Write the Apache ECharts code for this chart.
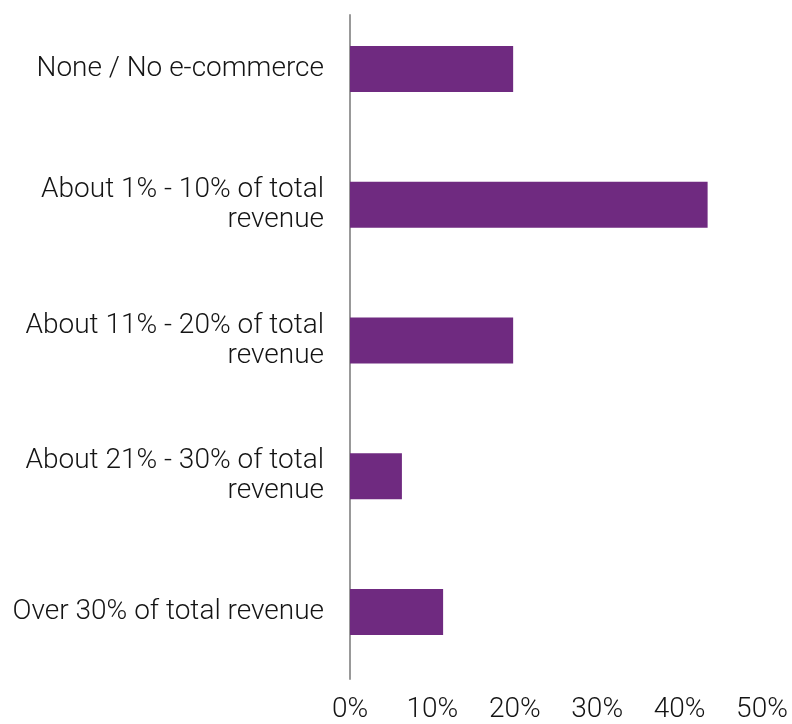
<!DOCTYPE html>
<html>
<head>
<meta charset="utf-8">
<script src="https://cdn.jsdelivr.net/npm/echarts@6/dist/echarts.min.js"></script>
<style>
  html, body { margin: 0; padding: 0; background: #fff; }
  #chart { width: 792px; height: 724px; }
</style>
</head>
<body>
<div id="chart"></div>
<script>
const categories = [
    'None / No e-commerce',
    'About 1% - 10% of total\nrevenue',
    'About 11% - 20% of total\nrevenue',
    'About 21% - 30% of total\nrevenue',
    'Over 30% of total revenue'
];
const shares = [19.8, 43.4, 19.8, 6.3, 11.3];
const xTicks = [0, 10, 20, 30, 40, 50];

const textFont = { fontFamily: 'Roboto', fontWeight: 300, fontSize: 28, color: '#141414' };

const chart = echarts.init(document.getElementById('chart'));

chart.setOption({
    animation: false,
    grid: [
        { left: 350, right: 30, top: 1, bottom: 42 },
        // only used to draw the vertical axis line, which is shorter than the bar bands
        { left: 350, right: 30, top: 15, bottom: 45 }
    ],
    xAxis: [{
        type: 'value',
        gridIndex: 0,
        min: xTicks[0],
        max: xTicks[xTicks.length - 1],
        interval: xTicks[1] - xTicks[0],
        axisLine: { show: false },
        axisTick: { show: false },
        splitLine: { show: false },
        axisLabel: Object.assign({ margin: 16, formatter: '{value}%' }, textFont)
    }, {
        type: 'value',
        gridIndex: 1,
        show: false
    }],
    yAxis: [{
        type: 'category',
        gridIndex: 0,
        inverse: true,
        data: categories,
        axisLine: { show: false },
        axisTick: { show: false },
        axisLabel: Object.assign({ margin: 26, lineHeight: 30, align: 'right' }, textFont)
    }, {
        type: 'value',
        gridIndex: 1,
        min: 0,
        max: 1,
        axisLine: { show: true, lineStyle: { color: '#999999', width: 2 } },
        axisTick: { show: false },
        axisLabel: { show: false },
        splitLine: { show: false }
    }],
    series: [{
        type: 'bar',
        xAxisIndex: 0,
        yAxisIndex: 0,
        data: shares,
        barWidth: 46,
        itemStyle: { color: '#6f2a80' }
    }]
});
</script>
</body>
</html>
